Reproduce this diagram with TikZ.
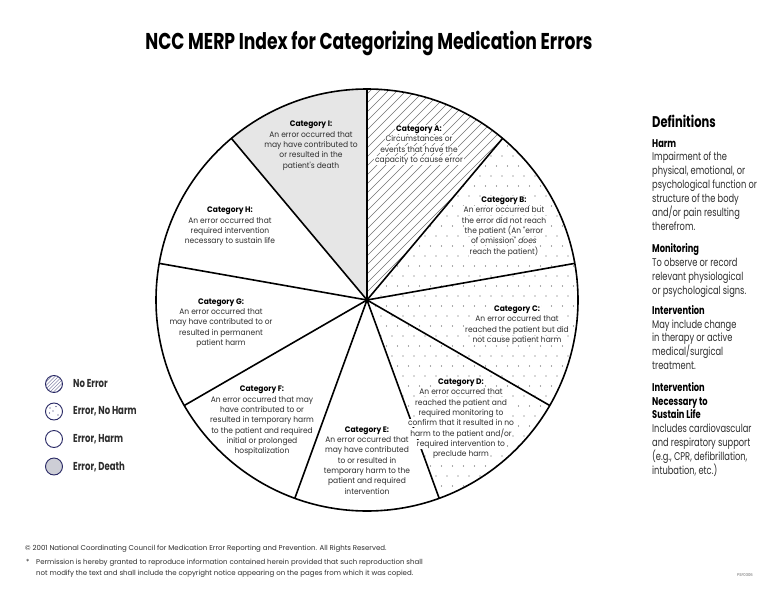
\documentclass[tikz,border=0pt]{standalone}
\usepackage{fontspec}
\setmainfont{Poppins}
\newfontfamily\titlefont[FakeStretch=0.75]{Poppins}
\newfontfamily\condfont[FakeStretch=0.74]{Poppins}
\newfontfamily\slicefont[FakeStretch=0.94]{Poppins}
\definecolor{slicegray}{RGB}{230,230,230}
\definecolor{txtgray}{RGB}{45,45,45}
\definecolor{navy}{RGB}{40,40,100}
\definecolor{legendgray}{RGB}{205,206,214}
\tikzset{
  divline/.style={line width=1.6pt, black},
  hatchline/.style={line width=0.45pt, black!55},
  dotc/.style={fill=black!65},
  slicetxt/.style={font=\slicefont\fontsize{8}{10.3}\selectfont, align=center, inner sep=0pt, anchor=north, text=txtgray},
  deftxt/.style={font=\condfont\fontsize{11.2}{13.9}\selectfont, align=left, inner sep=0pt, anchor=north west, text=txtgray},
  legendcirc/.style={draw=navy, line width=0.9pt},
  legendtxt/.style={font=\condfont\bfseries\fontsize{11.5}{13}\selectfont, inner sep=0pt, anchor=west, text=txtgray},
  foottxt/.style={font=\fontsize{7}{11}\selectfont, inner sep=0pt, anchor=base west, text=txtgray}
}
\newcommand{\cat}[1]{{\bfseries\color{black}#1}}
\newcommand{\wl}[1]{{\setlength{\fboxsep}{0.7pt}\colorbox{white}{#1}}}
\begin{document}
\begin{tikzpicture}[x=1pt,y=-1pt]
\useasboundingbox (0,0) rectangle (768,594);
\fill[white] (0,0) rectangle (768,594);

% title
\node[font=\titlefont\bfseries\fontsize{22.9}{26}\selectfont, anchor=base, inner sep=0pt] (title) at (369,49) {NCC MERP Index for Categorizing Medication Errors};

% pie
\begin{scope}[shift={(367,300)}, yscale=-1]
  \coordinate (ctr) at (0,0);
  \fill[slicegray] (0,0) -- (90:211) arc[start angle=90, end angle=130, radius=211] -- cycle;
  \begin{scope}
    \clip (0,0) -- (50:211) arc[start angle=50, end angle=90, radius=211] -- cycle;
    \foreach \c in {-260,-251,...,160} \draw[hatchline] (\c-10,-10) -- (\c+250,250);
  \end{scope}
  \begin{scope}
    \clip (0,0) -- (-70:211) arc[start angle=-70, end angle=50, radius=211] -- cycle;
    \foreach \j in {-21,...,21}
      \foreach \i in {0,...,20}
        \fill[dotc] ({\i*11+5.5*abs(mod(\j,2))+3}, {\j*10+4}) circle (0.62);
  \end{scope}
  \foreach \a in {10,50,90,130,170,210,250,290,330}
    \draw[divline] (ctr) -- (\a:211);
  \draw[divline] (ctr) circle (211);
  \fill (ctr) circle (2.2);
\end{scope}

% slice texts
\node[slicetxt] (catI) at (311,121) {\cat{Category I:}\\An error occurred that\\may have contributed to\\or resulted in the\\patient's death};
\node[slicetxt] (catA) at (419,125) {\wl{\cat{Category A:}}\\\wl{Circumstances or}\\\wl{events that have the}\\\wl{capacity to cause error}};
\node[slicetxt] (catB) at (504,196) {\wl{\cat{Category B:}}\\\wl{An error occurred but}\\\wl{the error did not reach}\\\wl{the patient (An "error}\\\wl{of omission" \textit{does}}\\\wl{reach the patient)}};
\node[slicetxt] (catC) at (517,305) {\wl{\cat{Category C:}}\\\wl{An error occurred that}\\\wl{reached the patient but did}\\\wl{not cause patient harm}};
\node[slicetxt] (catD) at (461,378) {\wl{\cat{Category D:}}\\\wl{An error occurred that}\\\wl{reached the patient and}\\\wl{required monitoring to}\\\wl{confirm that it resulted in no}\\\wl{harm to the patient and/or}\\\wl{required intervention to}\\\wl{preclude harm}};
\node[slicetxt] (catE) at (367,426.5) {\cat{Category E:}\\An error occurred that\\may have contributed\\to or resulted in\\temporary harm to the\\patient and required\\intervention};
\node[slicetxt] (catF) at (262,386) {\cat{Category F:}\\An error occurred that may\\have contributed to or\\resulted in temporary harm\\to the patient and required\\initial or prolonged\\hospitalization};
\node[slicetxt] (catG) at (221,298.5) {\cat{Category G:}\\An error occurred that\\may have contributed to or\\resulted in permanent\\patient harm};
\node[slicetxt] (catH) at (230,207) {\cat{Category H:}\\An error occurred that\\required intervention\\necessary to sustain life};

% definitions
\node[font=\condfont\bfseries\fontsize{15.5}{18}\selectfont, anchor=base west, inner sep=0pt] (defs) at (652,127.5) {Definitions};
\node[deftxt] (harm) at (652,139) {\cat{Harm}\\Impairment of the\\physical, emotional, or\\psychological function or\\structure of the body\\and/or pain resulting\\therefrom.};
\node[deftxt] (mon) at (652,243.5) {\cat{Monitoring}\\To observe or record\\relevant physiological\\or psychological signs.};
\node[deftxt] (interv) at (652,305) {\cat{Intervention}\\May include change\\in therapy or active\\medical/surgical\\treatment.};
\node[deftxt] (sustain) at (652,382) {\cat{Intervention}\\\cat{Necessary to}\\\cat{Sustain Life}\\Includes cardiovascular\\and respiratory support\\(e.g., CPR, defibrillation,\\intubation, etc.)};

% legend
\begin{scope}
  \clip (54,384) circle (8.5);
  \foreach \c in {-24,-20.5,...,24} \draw[line width=0.5pt, navy!55] (54+\c-12,384+12) -- (54+\c+12,384-12);
\end{scope}
\draw[legendcirc] (54,384) circle (8.5);
\node[legendtxt] (l1) at (73,384) {No Error};
\draw[legendcirc, fill=white] (54,411.5) circle (8.5);
\foreach \p in {(50,408),(56,406.5),(49.5,413),(58,415),(53,411)} \fill[navy] \p circle (0.55);
\node[legendtxt] (l2) at (73,411.5) {Error, No Harm};
\draw[legendcirc, fill=white] (54,439) circle (8.5);
\node[legendtxt] (l3) at (73,439) {Error, Harm};
\draw[legendcirc, fill=legendgray] (54,466.5) circle (8.5);
\node[legendtxt] (l4) at (73,466.5) {Error, Death};

% footer
\node[foottxt] (f1) at (25,550.5) {\textcopyright\ 2001 National Coordinating Council for Medication Error Reporting and Prevention. All Rights Reserved.};
\node[foottxt] (f2a) at (26,564) {*};
\node[foottxt] (f2) at (36,564) {Permission is hereby granted to reproduce information contained herein provided that such reproduction shall};
\node[foottxt] (f3) at (36,575) {not modify the text and shall include the copyright notice appearing on the pages from which it was copied.};
\node[font=\slicefont\fontsize{4}{5}\selectfont, anchor=base, inner sep=0pt, text=black!60] (code) at (745,576) {PSF0306};
\end{tikzpicture}
\end{document}
